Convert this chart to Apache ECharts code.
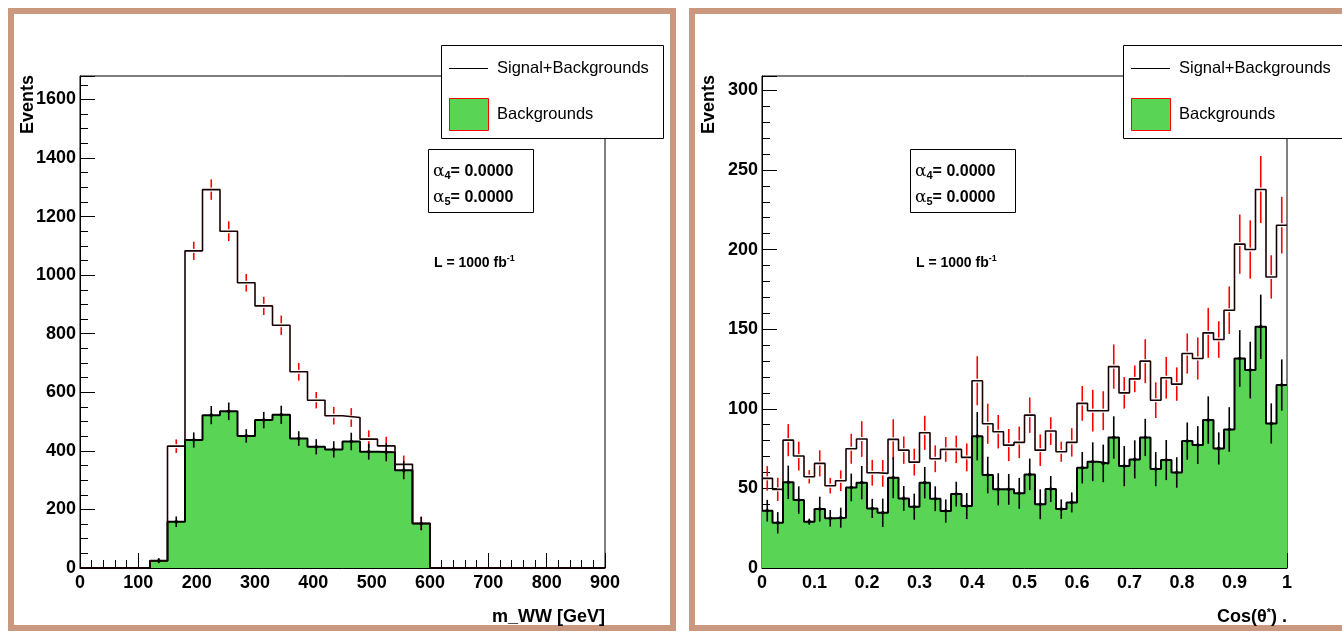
<!DOCTYPE html>
<html>
<head>
<meta charset="utf-8">
<script src="https://cdn.jsdelivr.net/npm/echarts@6/dist/echarts.min.js"></script>
<style>
html,body{margin:0;padding:0;background:#fff;}
#chart{width:1342px;height:632px;}
</style>
</head>
<body>
<div id="chart"></div>
<script>
// ---- Data: left panel, m_WW histogram (bins of 30 GeV from 0 to 900) ----
const mwwBinStart = 0;
const mwwBinWidth = 30;
const mwwTotal    = [0,0,0,0,25,416,1083,1292,1150,974,895,829,670,573,520,514,440,417,354,152,0,0,0,0,0,0,0,0,0,0];
const mwwTotalErr = [0,0,0,0,9,23,31,35,34,30,31,33,30,28,30,32,30,31,30,23,0,0,0,0,0,0,0,0,0,0];
const mwwBkg      = [0,0,0,0,25,158,437,522,535,451,505,523,442,414,405,432,397,395,334,152,0,0,0,0,0,0,0,0,0,0];
const mwwBkgErr   = [0,0,0,0,8,18,26,31,30,23,28,31,25,26,28,30,27,31,31,23,0,0,0,0,0,0,0,0,0,0];

// ---- Data: right panel, cos(theta*) histogram (bins of 0.02 from 0 to 1) ----
const cosBinStart = 0;
const cosBinWidth = 0.02;
const cosTotal = [56.3,49.4,80.3,70.3,57.3,65.7,51.7,54.8,74.9,81,
                  59.8,59.4,80.8,74,66.5,84.9,68.6,74.5,74.5,69.5,
                  117.6,90.6,85.6,77.2,78.9,96,74,86,73,78.9,
                  103.4,98.8,98.8,126.5,110,118.8,129.9,105.4,119.5,115.5,
                  134.7,131.6,147.7,143.5,161.9,203.4,200,237.7,182.8,215.3];
const cosTotalErr = [7.7,7.3,10.1,9.1,4.2,8.2,4.9,6.5,9.4,11.2,
                     8.1,8.4,12.6,8.6,8.4,10.7,8.4,7.8,8.6,8.7,
                     15.4,12.6,10.5,10.1,9.9,11.1,9.9,8.7,6.3,8.9,
                     10.9,13.1,12.2,13.9,9.9,8.4,13.8,11.2,13.1,10.5,
                     12.6,13.2,15.7,11.5,14.9,18.6,18.3,21.1,13.6,17.8];
const cosBkg = [36,28.4,53.8,42.7,29.1,37,31.2,31.6,50.6,53.6,
                37.4,34.7,56.7,43.7,38.5,53.6,43.5,35.8,46.4,38.9,
                82.8,58.4,49.4,49.4,46.9,58.8,40,49.6,37,41.2,
                63,66.7,65.7,82,64,68.2,82,62.1,67.8,60,
                79.7,77.2,92.9,75.1,87,131.6,124.3,151.5,90.8,114.9];
const cosBkgErr = [6.8,6.7,10.5,8.6,1.9,7.8,5.2,6.3,8.7,10.5,
                   6,8.9,12.9,7.8,8.2,9.9,7.8,7.3,7.8,8.2,
                   15.2,11.5,10.1,9.7,9.7,9.9,9.4,8.2,6.1,6.3,
                   9.9,12.2,11.8,13.3,12.6,12,11.7,10.7,12.6,9.6,
                   11.7,11.9,14.9,10.1,14,17.8,17.8,20.2,12.6,16.1];

// axis tick values
const mwwXTicks = [0,100,200,300,400,500,600,700,800,900];
const mwwYTicks = [0,200,400,600,800,1000,1200,1400,1600];
const cosXTicks = [0,0.1,0.2,0.3,0.4,0.5,0.6,0.7,0.8,0.9,1];
const cosYTicks = [0,50,100,150,200,250,300];

// ---- helpers ----
function stepData(vals, start, w) {
  const d = vals.map((v, i) => [start + i * w, v]);
  d.push([start + vals.length * w, vals[vals.length - 1]]);
  return d;
}
function errData(vals, errs, start, w) {
  return vals.map((v, i) => [start + (i + 0.5) * w, v, errs[i]]);
}
function errRender(color, gap, dot) {
  return function (params, api) {
    const x = api.value(0), v = api.value(1), e = api.value(2);
    if (!(v > 0)) return;
    const c = api.coord([x, v]);
    const t = api.coord([x, v + e]);
    const b = api.coord([x, Math.max(v - e, 0)]);
    const st = {stroke: color, lineWidth: 1.6};
    const ch = [];
    if (gap > 0) {
      ch.push({type: 'line', shape: {x1: c[0], y1: t[1], x2: c[0], y2: c[1] - gap}, style: st});
      ch.push({type: 'line', shape: {x1: c[0], y1: c[1] + gap, x2: c[0], y2: b[1]}, style: st});
    } else {
      ch.push({type: 'line', shape: {x1: c[0], y1: t[1], x2: c[0], y2: b[1]}, style: st});
    }
    if (dot) ch.push({type: 'circle', shape: {cx: c[0], cy: c[1], r: 1.8}, style: {fill: color}});
    return {type: 'group', children: ch};
  };
}
const FONT = '"Liberation Sans", Arial, Helvetica, sans-serif';
const GREEN = '#59d454';
const TAN = '#c9987f';

function xAxisCfg(grid, min, max, interval, ticks) {
  return {
    gridIndex: grid, type: 'value', min: min, max: max, interval: interval,
    axisLine: {onZero: false, lineStyle: {color: '#000', width: 1}},
    axisTick: {inside: true, length: 15, lineStyle: {color: '#000', width: 1}},
    minorTick: {show: true, splitNumber: 5, length: 8, lineStyle: {color: '#000', width: 1}},
    splitLine: {show: false}, minorSplitLine: {show: false},
    axisLabel: {color: '#000', fontFamily: FONT, fontWeight: 'bold', fontSize: 18, margin: 6,
      formatter: v => ticks.some(t => Math.abs(t - v) < 1e-9) ? String(+v.toFixed(4)) : ''}
  };
}
function yAxisCfg(grid, min, max, interval, minorSplit, ticks) {
  return {
    gridIndex: grid, type: 'value', min: min, max: max, interval: interval,
    axisLine: {onZero: false, lineStyle: {color: '#000', width: 1}},
    axisTick: {inside: true, length: 15, lineStyle: {color: '#000', width: 1}},
    minorTick: {show: true, splitNumber: minorSplit, length: 8, lineStyle: {color: '#000', width: 1}},
    splitLine: {show: false}, minorSplitLine: {show: false},
    axisLabel: {color: '#000', fontFamily: FONT, fontWeight: 'bold', fontSize: 18, margin: 4, showMaxLabel: false,
      formatter: v => ticks.some(t => Math.abs(t - v) < 1e-9) ? String(v) : ''}
  };
}

function panelSeries(xi, total, totalErr, bkg, bkgErr, start, w) {
  return [
    {type: 'line', xAxisIndex: xi, yAxisIndex: xi, step: 'end', symbol: 'none', silent: true,
     data: stepData(bkg, start, w), lineStyle: {color: '#000', width: 2},
     areaStyle: {color: GREEN, opacity: 1}, z: 2},
    {type: 'line', xAxisIndex: xi, yAxisIndex: xi, step: 'end', symbol: 'none', silent: true,
     data: stepData(total, start, w), lineStyle: {color: '#1a0000', width: 1.6}, z: 3},
    {type: 'custom', xAxisIndex: xi, yAxisIndex: xi, silent: true, z: 4,
     data: errData(total, totalErr, start, w), encode: {x: 0, y: 1},
     renderItem: errRender('#ff0000', 2, false)},
    {type: 'custom', xAxisIndex: xi, yAxisIndex: xi, silent: true, z: 5,
     data: errData(bkg, bkgErr, start, w), encode: {x: 0, y: 1},
     renderItem: errRender('#000000', 0, true)}
  ];
}

function legendGroup(x) {
  return [
    {type: 'rect', z: 100, shape: {x: x + 0.5, y: 45.5, width: 222, height: 93},
     style: {fill: '#fff', stroke: '#000', lineWidth: 1}},
    {type: 'line', z: 101, shape: {x1: x + 8, y1: 68.5, x2: x + 47, y2: 68.5}, style: {stroke: '#000', lineWidth: 1.2}},
    {type: 'text', z: 101, x: x + 56, y: 68, style: {text: 'Signal+Backgrounds', font: '16.5px ' + FONT, fill: '#000', textVerticalAlign: 'middle'}},
    {type: 'rect', z: 101, shape: {x: x + 8.5, y: 98.5, width: 39, height: 32},
     style: {fill: GREEN, stroke: '#ff0000', lineWidth: 1}},
    {type: 'text', z: 101, x: x + 56, y: 114, style: {text: 'Backgrounds', font: '16.5px ' + FONT, fill: '#000', textVerticalAlign: 'middle'}}
  ];
}
function paramBox(x) {
  const rich = {
    a: {fontFamily: '"DejaVu Serif", "Liberation Serif", serif', fontSize: 17, fontWeight: 'normal'},
    s: {fontFamily: FONT, fontSize: 11, fontWeight: 'bold', verticalAlign: 'bottom', padding: [8, 0, 0, 0]},
    b: {fontFamily: FONT, fontSize: 16, fontWeight: 'bold'}
  };
  return [
    {type: 'rect', z: 100, shape: {x: x + 0.5, y: 149.5, width: 105, height: 63},
     style: {fill: '#fff', stroke: '#000', lineWidth: 1}},
    {type: 'text', z: 101, x: x + 5, y: 172, style: {text: '{a|α}{s|4}{b|= 0.0000}', rich: rich, fill: '#000', textVerticalAlign: 'middle'}},
    {type: 'text', z: 101, x: x + 5, y: 198, style: {text: '{a|α}{s|5}{b|= 0.0000}', rich: rich, fill: '#000', textVerticalAlign: 'middle'}},
    {type: 'text', z: 101, x: x + 6, y: 263, style: {
      text: '{b|L = 1000 fb}{p|-1}', fill: '#000', textVerticalAlign: 'middle',
      rich: {b: {fontFamily: FONT, fontSize: 14, fontWeight: 'bold'},
             p: {fontFamily: FONT, fontSize: 9, fontWeight: 'bold', verticalAlign: 'top', padding: [0, 0, 8, 0]}}}}
  ];
}
function yTitle(x) {
  return {type: 'text', z: 101, x: x, y: 75, rotation: Math.PI / 2,
    style: {text: 'Events', font: 'bold 18px ' + FONT, fill: '#000', textAlign: 'right', textVerticalAlign: 'middle'}};
}

const option = {
  animation: false,
  backgroundColor: '#fff',
  grid: [
    {left: 80, top: 76, width: 525, height: 492, show: true, borderColor: '#000', borderWidth: 1, backgroundColor: '#fff'},
    {left: 762, top: 76, width: 525, height: 492, show: true, borderColor: '#000', borderWidth: 1, backgroundColor: '#fff'}
  ],
  xAxis: [xAxisCfg(0, 0, 900, 100, mwwXTicks), xAxisCfg(1, 0, 1, 0.1, cosXTicks)],
  yAxis: [yAxisCfg(0, 0, 1680, 200, 4, mwwYTicks), yAxisCfg(1, 0, 309, 50, 5, cosYTicks)],
  series: [].concat(
    panelSeries(0, mwwTotal, mwwTotalErr, mwwBkg, mwwBkgErr, mwwBinStart, mwwBinWidth),
    panelSeries(1, cosTotal, cosTotalErr, cosBkg, cosBkgErr, cosBinStart, cosBinWidth)
  ),
  graphic: [].concat(
    [
      {type: 'rect', z: -10, shape: {x: 11, y: 11, width: 662, height: 617}, style: {fill: null, stroke: TAN, lineWidth: 6}},
      {type: 'rect', z: -10, shape: {x: 692, y: 11, width: 700, height: 617}, style: {fill: null, stroke: TAN, lineWidth: 6}}
    ],
    legendGroup(441), legendGroup(1123),
    paramBox(428), paramBox(910),
    [
      yTitle(28), yTitle(709),
      {type: 'text', z: 101, x: 605, y: 617, style: {text: 'm_WW [GeV]', font: 'bold 18px ' + FONT, fill: '#000', textAlign: 'right', textVerticalAlign: 'middle'}},
      {type: 'text', z: 101, x: 1287, y: 617, style: {
        text: '{b|Cos(θ}{p|*}{b|) .}', fill: '#000', textAlign: 'right', textVerticalAlign: 'middle',
        rich: {b: {fontFamily: FONT, fontSize: 18, fontWeight: 'bold'},
               p: {fontFamily: FONT, fontSize: 11, fontWeight: 'bold', verticalAlign: 'top', padding: [0, 0, 8, 0]}}}}
    ]
  )
};
const chart = echarts.init(document.getElementById('chart'), null, {renderer: 'canvas'});
chart.setOption(option);
</script>
</body>
</html>
